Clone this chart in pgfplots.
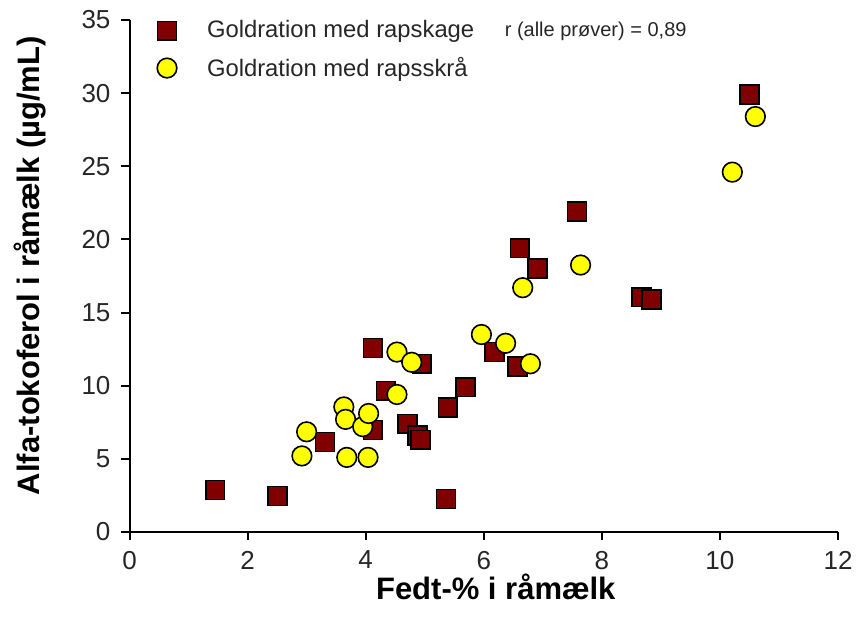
\documentclass[border=0pt]{standalone}
\usepackage{fontspec}
\setmainfont{Liberation Sans}
\usepackage{pgfplots}
\pgfplotsset{compat=1.18}
\definecolor{kage}{HTML}{800000}
\definecolor{skraa}{HTML}{FFFF00}
\begin{document}
\begin{tikzpicture}
\path[use as bounding box] (-64.75pt,-49pt) rectangle (363.25pt,266pt);
\begin{axis}[
  at={(0,0)}, anchor=south west,
  scale only axis, width=354.25pt, height=256pt,
  xmin=0, xmax=12, ymin=0, ymax=35,
  xtick={0,2,...,12}, ytick={0,5,...,35},
  axis lines*=left,
  axis line style={line width=1pt, black},
  tick style={line width=1pt, black},
  major tick length=4pt,
  tick align=outside,
  /pgf/number format/assume math mode=true,
  ticklabel style={font=\fontsize{13}{15}\selectfont, text=black!85},
  yticklabel style={xshift=-2pt},
  xticklabel style={yshift=-2pt},
  xlabel={Fedt-\% i råmælk},
  ylabel={Alfa-tokoferol i råmælk (µg/mL)},
  label style={font=\fontsize{15.5}{17}\selectfont\bfseries},
  xlabel style={at={(axis description cs:0.517,-0.107)}, anchor=center},
  ylabel style={at={(axis description cs:-0.1404,0.52)}, anchor=center},
  legend image code/.code={\draw[#1] plot coordinates {(0pt,0pt)}; \path[draw=none,fill=none] (-6pt,0pt) rectangle (18pt,0.1pt);},
  legend style={draw=none, fill=none, at={(axis description cs:0.027,1.015)}, anchor=north west,
    font=\fontsize{11.9}{13}\selectfont, row sep=4pt, nodes={text=black!85}},
  legend cell align=left,
  clip=false,
]
\addplot[only marks, mark=square*, mark size=4.7pt, mark options={fill=kage, draw=black, line width=0.8pt}]
coordinates {
(1.45,2.87) (2.51,2.46) (3.31,6.15) (4.12,12.58) (4.34,9.65) (4.12,6.97)
(4.71,7.4) (4.88,6.6) (4.93,6.3) (4.95,11.5) (5.39,8.5) (5.36,2.25)
(5.69,9.9) (6.18,12.3) (6.57,11.3) (6.61,19.4) (6.91,18.0) (7.58,21.9)
(8.67,16.05) (8.84,15.9) (10.5,29.9)
};
\addlegendentry{Goldration med rapskage}
\addplot[only marks, mark=*, mark size=4.9pt, mark options={fill=skraa, draw=black, line width=0.8pt}]
coordinates {
(3.0,6.85) (2.92,5.2) (3.63,8.55) (3.66,7.7) (3.68,5.1) (3.95,7.2)
(4.05,8.1) (4.04,5.1) (4.53,12.3) (4.53,9.4) (4.78,11.6) (5.96,13.5)
(6.37,12.9) (6.79,11.5) (6.66,16.7) (7.64,18.25) (10.6,28.4) (10.21,24.6)
};
\addlegendentry{Goldration med rapsskrå}
\node[anchor=west, font=\fontsize{10}{12}\selectfont, text=black!85, inner sep=0pt] at (axis cs:6.35,34.2) {r (alle prøver) = 0,89};
\end{axis}
\end{tikzpicture}
\end{document}
